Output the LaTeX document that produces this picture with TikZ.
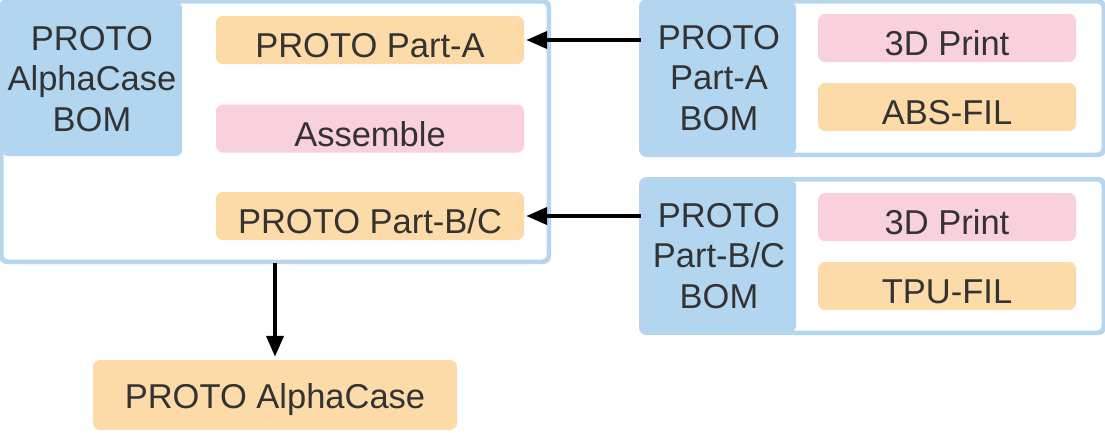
\documentclass[tikz,border=0pt]{standalone}
\usepackage{fontspec}
\setmainfont{Liberation Sans}
\usepackage{tikz}
\usetikzlibrary{arrows.meta}
\usetikzlibrary{calc}
\usetikzlibrary{shapes}

\definecolor{bomblue}{HTML}{B3D6F0}
\definecolor{frameblue}{HTML}{B7D5EE}
\definecolor{partorange}{HTML}{FDDBA8}
\definecolor{steppink}{HTML}{F8D1DD}
\definecolor{textgray}{HTML}{333333}

\begin{document}
\begin{tikzpicture}[x=1pt, y=-1pt,
        frame_style/.style={rectangle,draw=frameblue,line width=3pt,fill=white,rounded corners=6pt,inner sep=0pt},
        bom_style/.style={rectangle,fill=bomblue,rounded corners=6pt,align=center,text=textgray,
            font=\fontsize{34.5}{40.5}\selectfont,inner sep=0pt},
        part_style/.style={rectangle,fill=partorange,rounded corners=7pt,text=textgray,
            font=\fontsize{34.5}{40.5}\selectfont,inner sep=0pt,text height=35pt,text depth=0pt},
        op_style/.style={rectangle,fill=steppink,rounded corners=7pt,text=textgray,
            font=\fontsize{34.5}{40.5}\selectfont,inner sep=0pt,text height=35pt,text depth=0pt},
        edge_style/.style={draw=black,line width=4pt,-{Triangle[length=21pt,width=17pt]}}]

        \useasboundingbox (0,0) rectangle (1105,432);

        % AlphaCase BOM
        \node [frame_style,minimum width=546pt,minimum height=259pt](alpha_frame) at (275,131.5) {};
        \node [bom_style,minimum width=180pt,minimum height=154pt](alpha_bom) at (92,79) {PROTO\\AlphaCase\\BOM};
        \node [part_style,minimum width=308pt,minimum height=48pt](part_a) at (370,40) {PROTO Part-A};
        \node [op_style,minimum width=308pt,minimum height=48pt](assemble) at (370,128.5) {Assemble};
        \node [part_style,minimum width=308pt,minimum height=48pt](part_bc) at (370,216) {PROTO Part-B/C};

        % Part-A BOM
        \node [frame_style,minimum width=461pt,minimum height=152pt](a_frame) at (872.5,78) {};
        \node [bom_style,minimum width=154pt,minimum height=152pt](a_bom) at (719,78) {PROTO\\Part-A\\BOM};
        \node [op_style,minimum width=258pt,minimum height=48pt](a_print) at (947,38) {3D Print};
        \node [part_style,minimum width=258pt,minimum height=48pt](a_fil) at (947,107) {ABS-FIL};

        % Part-B/C BOM
        \node [frame_style,minimum width=461pt,minimum height=152pt](bc_frame) at (872.5,256) {};
        \node [bom_style,minimum width=154pt,minimum height=152pt](bc_bom) at (719,256) {PROTO\\Part-B/C\\BOM};
        \node [op_style,minimum width=258pt,minimum height=48pt](bc_print) at (947,217) {3D Print};
        \node [part_style,minimum width=258pt,minimum height=48pt](bc_fil) at (947,286) {TPU-FIL};

        % frame borders on top of the headers
        \foreach \f in {alpha_frame,a_frame,bc_frame}
            \draw [draw=frameblue,line width=3pt,rounded corners=6pt] (\f.north west) rectangle (\f.south east);

        % product
        \node [part_style,minimum width=364pt,minimum height=70pt,text height=27pt](product) at (275,395) {PROTO AlphaCase};

        \draw [edge_style,shorten >=2pt] (part_a.east -| a_frame.west) -- (part_a.east);
        \draw [edge_style,shorten >=2pt] (part_bc.east -| bc_frame.west) -- (part_bc.east);
        \draw [edge_style,shorten >=3pt] (alpha_frame.south) -- (product.north);
        \end{tikzpicture}
\end{document}
